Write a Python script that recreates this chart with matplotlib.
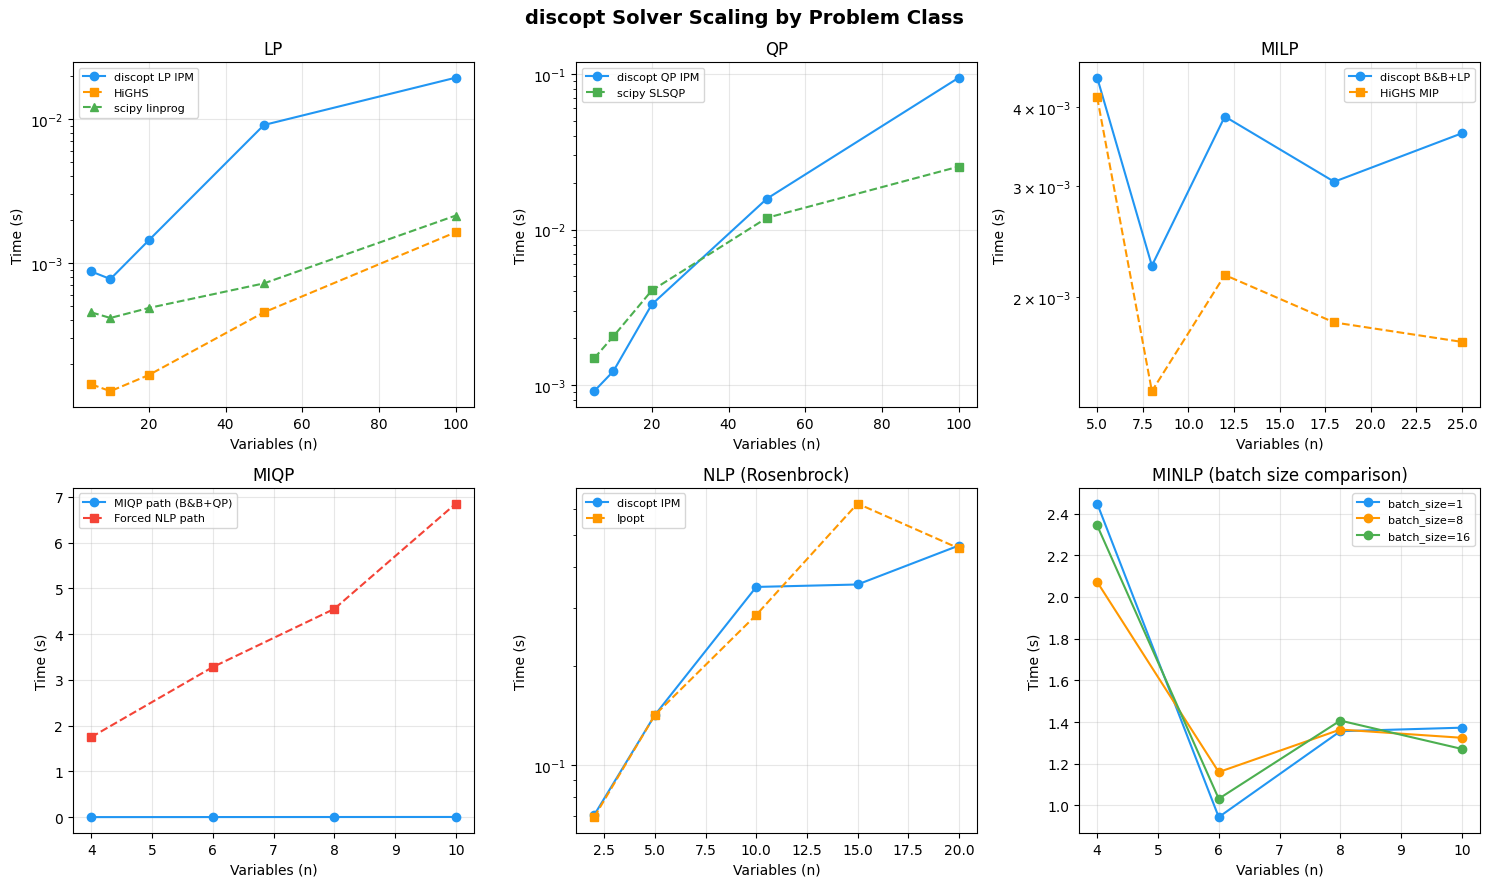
import matplotlib
matplotlib.use("Agg")
import matplotlib.pyplot as plt

BLUE = "#2196F3"
ORANGE = "#FF9800"
GREEN = "#4CAF50"
RED = "#F44336"

# LP
lp_n = [5, 10, 20, 50, 100]
lp_discopt = [8.75e-4, 7.75e-4, 1.44e-3, 9.1e-3, 0.0194]
lp_highs = [1.44e-4, 1.29e-4, 1.67e-4, 4.55e-4, 1.64e-3]
lp_scipy = [4.55e-4, 4.16e-4, 4.88e-4, 7.23e-4, 2.14e-3]

# QP
qp_n = [5, 10, 20, 50, 100]
qp_discopt = [9.15e-4, 1.23e-3, 3.30e-3, 0.0158, 0.0947]
qp_scipy = [1.49e-3, 2.06e-3, 4.06e-3, 0.0119, 0.0254]

# MILP
milp_n = [5, 8, 12, 18, 25]
milp_discopt = [4.46e-3, 2.245e-3, 3.87e-3, 3.05e-3, 3.64e-3]
milp_highs = [4.15e-3, 1.42e-3, 2.17e-3, 1.825e-3, 1.70e-3]

# MIQP
miqp_n = [4, 6, 8, 10]
miqp_path = [0.004, 0.005, 0.006, 0.007]
miqp_forced = [1.75, 3.28, 4.55, 6.85]

# NLP
nlp_n = [2, 5, 10, 15, 20]
nlp_discopt = [0.0704, 0.142, 0.348, 0.354, 0.465]
nlp_ipopt = [0.0694, 0.142, 0.286, 0.624, 0.456]

# MINLP
minlp_n = [4, 6, 8, 10]
minlp_bs1 = [2.448, 0.944, 1.356, 1.373]
minlp_bs8 = [2.072, 1.160, 1.364, 1.3245]
minlp_bs16 = [2.343, 1.032, 1.407, 1.271]

fig, axes = plt.subplots(2, 3, figsize=(14.89, 8.87), dpi=100)

def style(ax, title, loc="best"):
    ax.set_title(title, fontsize=12)
    ax.set_xlabel("Variables (n)")
    ax.set_ylabel("Time (s)")
    ax.grid(True, alpha=0.3)
    ax.legend(fontsize=8, loc=loc)

ax = axes[0, 0]
ax.plot(lp_n, lp_discopt, "o-", color=BLUE, label="discopt LP IPM")
ax.plot(lp_n, lp_highs, "s--", color=ORANGE, label="HiGHS")
ax.plot(lp_n, lp_scipy, "^--", color=GREEN, label="scipy linprog")
ax.set_yscale("log")
style(ax, "LP", "upper left")

ax = axes[0, 1]
ax.plot(qp_n, qp_discopt, "o-", color=BLUE, label="discopt QP IPM")
ax.plot(qp_n, qp_scipy, "s--", color=GREEN, label="scipy SLSQP")
ax.set_yscale("log")
style(ax, "QP", "upper left")

ax = axes[0, 2]
ax.plot(milp_n, milp_discopt, "o-", color=BLUE, label="discopt B&B+LP")
ax.plot(milp_n, milp_highs, "s--", color=ORANGE, label="HiGHS MIP")
ax.set_yscale("log")
style(ax, "MILP", "upper right")

ax = axes[1, 0]
ax.plot(miqp_n, miqp_path, "o-", color=BLUE, label="MIQP path (B&B+QP)")
ax.plot(miqp_n, miqp_forced, "s--", color=RED, label="Forced NLP path")
style(ax, "MIQP", "upper left")

ax = axes[1, 1]
ax.plot(nlp_n, nlp_discopt, "o-", color=BLUE, label="discopt IPM")
ax.plot(nlp_n, nlp_ipopt, "s--", color=ORANGE, label="Ipopt")
ax.set_yscale("log")
style(ax, "NLP (Rosenbrock)", "upper left")

ax = axes[1, 2]
ax.plot(minlp_n, minlp_bs1, "o-", color=BLUE, label="batch_size=1")
ax.plot(minlp_n, minlp_bs8, "o-", color=ORANGE, label="batch_size=8")
ax.plot(minlp_n, minlp_bs16, "o-", color=GREEN, label="batch_size=16")
style(ax, "MINLP (batch size comparison)", "upper right")

fig.suptitle("discopt Solver Scaling by Problem Class", fontsize=14, fontweight="bold", y=0.99)
fig.subplots_adjust(left=0.049, right=0.994, top=0.929, bottom=0.06, wspace=0.254, hspace=0.235)
fig.savefig("out.png", dpi=100)
